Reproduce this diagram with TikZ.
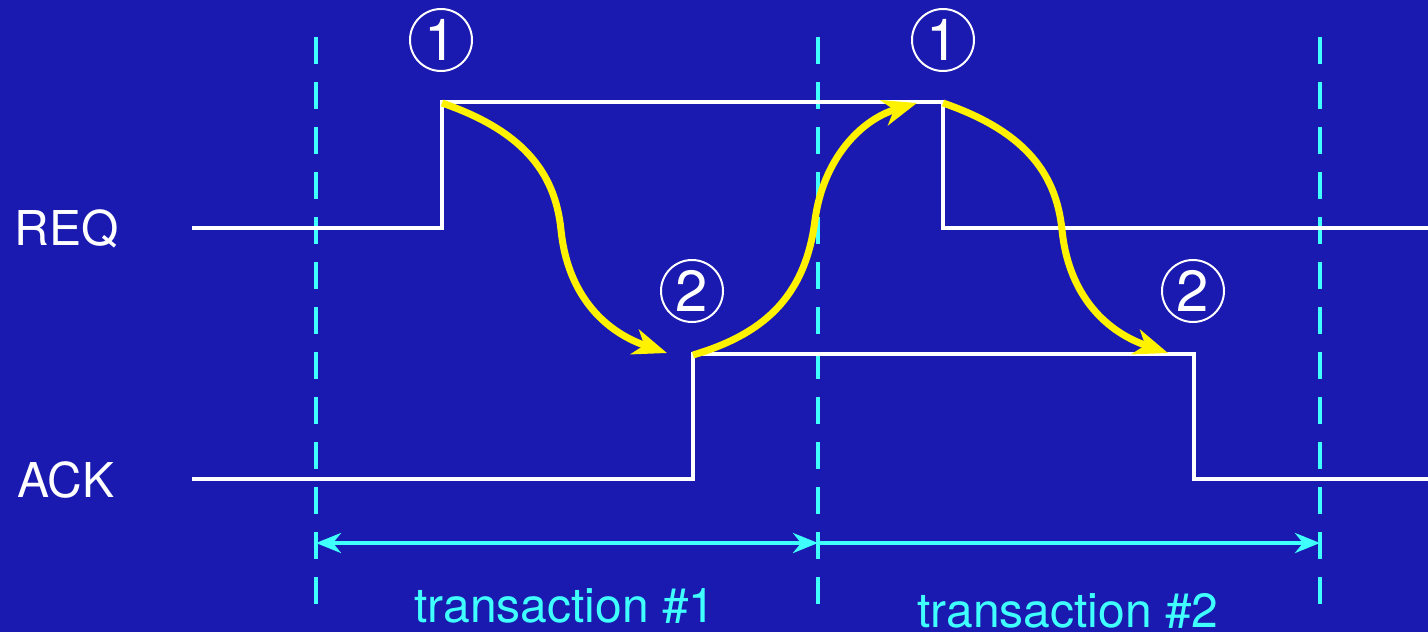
\documentclass[tikz,border=0pt]{standalone}
\usepackage{fontspec}
\setmainfont{TeX Gyre Heros}
\usetikzlibrary{arrows.meta}
\definecolor{bgblue}{RGB}{26,26,176}
\definecolor{sigcyan}{RGB}{64,255,255}
\begin{document}
\begin{tikzpicture}[x=1pt,y=-1pt,
  signal/.style={white,line width=4pt},
  handshake/.style={yellow,line width=7pt,-{Stealth[length=34pt,width=26pt,inset=10pt]}},
  boundary/.style={sigcyan,line width=4pt,dash pattern=on 27pt off 18pt},
  span/.style={sigcyan,line width=4pt},
  spantip/.tip={Stealth[length=25pt,width=20pt,inset=8pt]},
  phase/.style={circle,draw=white,line width=2pt,minimum size=62pt,inner sep=0pt,text=white,font=\fontsize{58}{58}\selectfont},
  lbl/.style={font=\fontsize{48}{56}\selectfont}]
\path[use as bounding box,fill=bgblue](0,0)rectangle(1428,632);
% transaction boundaries
\foreach \x/\n in {316/t0,818/t1,1320/t2}{
\draw[boundary](\x,37)--(\x,607);
\coordinate (\n) at (\x,543);}
\draw[span,spantip-spantip](t0)--(t1);
\draw[span,-spantip](t1)--(t2);
\node[lbl,text=sigcyan,anchor=base] (tr1) at (565,622) {transaction \#1};
\node[lbl,text=sigcyan,anchor=base] (tr2) at (1068,627) {transaction \#2};
% signals
\coordinate (requp) at (442,102);
\coordinate (reqdn) at (943,102);
\coordinate (ackup) at (693,354);
\coordinate (ackdn) at (1194,354);
\draw[signal](192,228)--(442,228)--(requp)--(reqdn)--(943,228)--(1428,228);
\draw[signal](192,479)--(693,479)--(ackup)--(ackdn)--(1194,479)--(1428,479);
\node[lbl,text=white,anchor=base west] (req) at (11,245) {REQ};
\node[lbl,text=white,anchor=base west] (ack) at (14,497) {ACK};
% handshake events
\node[phase] (e1a) at (441,40) {1};
\node[phase] (e2a) at (692,291) {2};
\node[phase] (e1b) at (943,40) {1};
\node[phase] (e2b) at (1193,291) {2};
\coordinate (ackin1) at (667,353);
\coordinate (reqin2) at (917,103);
\coordinate (ackin2) at (1168,353);
\draw[handshake]([yshift=-1pt]requp)..controls(520,130)and(555,170)..(561,230)
  ..controls(567,290)and(600,330)..(ackin1);
\draw[handshake]([yshift=-1pt]ackup)..controls(760,335)and(805,300)..(815,220)
  ..controls(823,160)and(860,120)..(reqin2);
\draw[handshake]([yshift=-1pt]reqdn)..controls(1021,130)and(1056,170)..(1062,230)
  ..controls(1068,290)and(1101,330)..(ackin2);
\end{tikzpicture}
\end{document}
